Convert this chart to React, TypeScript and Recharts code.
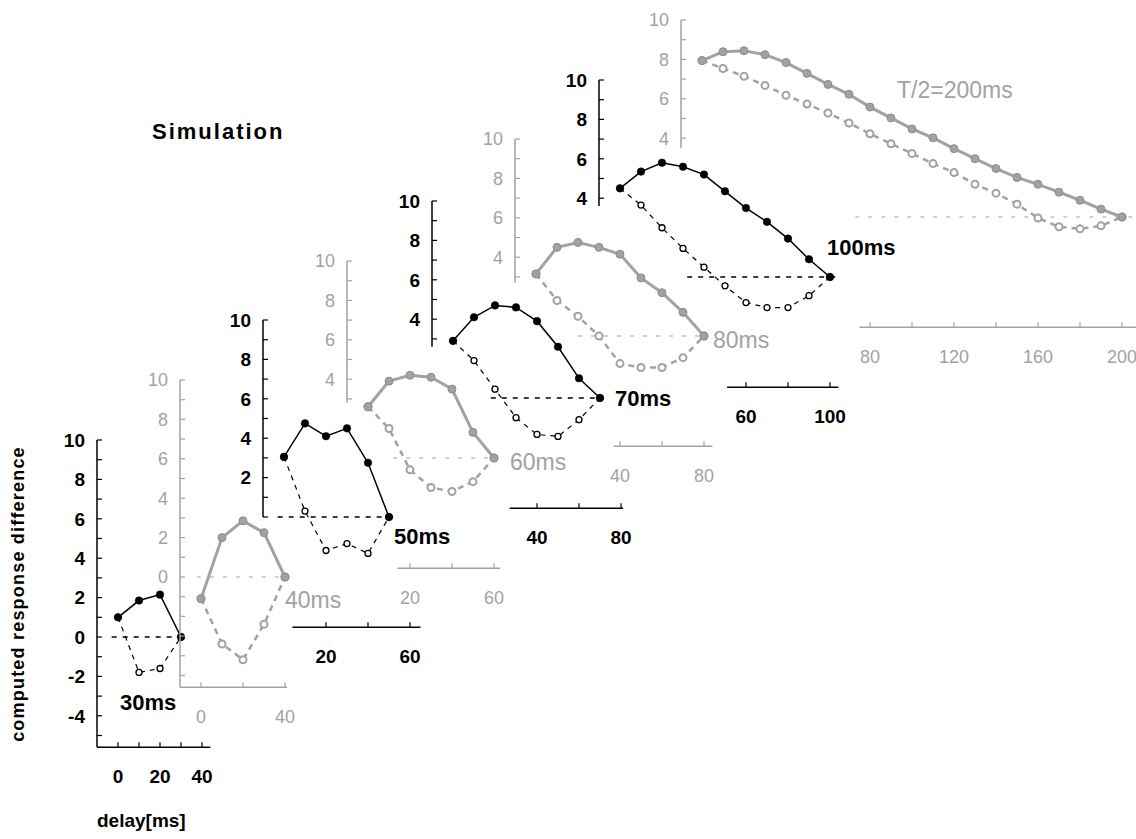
import React from 'react';
import { LineChart, Line, XAxis, YAxis, ReferenceLine } from 'recharts';

// delay (ms) and computed response difference, one set per half period
const delays30 = [0, 10, 20, 30];
const same30 = [1.0, 1.85, 2.15, 0];
const opp30 = [1.0, -1.8, -1.6, 0];

const delays40 = [0, 10, 20, 30, 40];
const same40 = [-1.1, 2.0, 2.85, 2.25, 0];
const opp40 = [-1.1, -3.4, -4.2, -2.4, 0];

const delays50 = [0, 10, 20, 30, 40, 50];
const same50 = [3.05, 4.75, 4.1, 4.5, 2.75, 0];
const opp50 = [3.05, 0.3, -1.7, -1.35, -1.85, 0];

const delays60 = [0, 10, 20, 30, 40, 50, 60];
const same60 = [2.6, 3.9, 4.2, 4.1, 3.5, 1.3, 0];
const opp60 = [2.6, 1.5, -0.6, -1.5, -1.7, -1.2, 0];

const delays70 = [0, 10, 20, 30, 40, 50, 60, 70];
const same70 = [2.9, 4.1, 4.7, 4.6, 3.9, 2.6, 1.0, 0];
const opp70 = [2.9, 1.9, 0.45, -1.0, -1.85, -1.95, -1.1, 0];

const delays80 = [0, 10, 20, 30, 40, 50, 60, 70, 80];
const same80 = [3.15, 4.5, 4.75, 4.5, 4.15, 2.95, 2.2, 1.2, 0];
const opp80 = [3.15, 1.8, 1.0, 0.0, -1.4, -1.6, -1.6, -1.1, 0];

const delays100 = [0, 10, 20, 30, 40, 50, 60, 70, 80, 90, 100];
const same100 = [4.5, 5.35, 5.8, 5.6, 5.2, 4.35, 3.5, 2.8, 1.95, 0.9, 0];
const opp100 = [4.5, 3.65, 2.5, 1.45, 0.5, -0.45, -1.3, -1.55, -1.55, -0.95, 0];

const delays200 = [0, 10, 20, 30, 40, 50, 60, 70, 80, 90, 100, 110, 120, 130, 140, 150, 160, 170, 180, 190, 200];
const same200 = [7.94, 8.39, 8.44, 8.24, 7.84, 7.29, 6.73, 6.23, 5.58, 5.03, 4.47, 4.02, 3.47, 2.96, 2.46, 2.01, 1.66, 1.26, 0.85, 0.4, 0];
const opp200 = [7.94, 7.54, 7.14, 6.68, 6.18, 5.73, 5.28, 4.77, 4.22, 3.72, 3.22, 2.71, 2.26, 1.66, 1.21, 0.65, -0.05, -0.5, -0.6, -0.45, 0];

// tick values and which of them carry a label
const yTicksFull = [-5, -4, -3, -2, -1, 0, 1, 2, 3, 4, 5, 6, 7, 8, 9, 10];
const yLabelsFull = [-4, -2, 0, 2, 4, 6, 8, 10];
const yLabelsPos = [0, 2, 4, 6, 8, 10];
const yTicks50 = [0, 1, 2, 3, 4, 5, 6, 7, 8, 9, 10];
const yLabels50 = [2, 4, 6, 8, 10];
const yTicksShort = [3, 4, 5, 6, 7, 8, 9, 10];
const yTicksTop = [4, 5, 6, 7, 8, 9, 10];
const yLabelsShort = [4, 6, 8, 10];

const xTicks30 = [0, 10, 20, 30, 40];
const xLabels30 = [0, 20, 40];
const xTicks40 = [0, 20, 40];
const xLabels40 = [0, 40];
const xTicks50 = [20, 40, 60];
const xLabels50 = [20, 60];
const xTicks70 = [40, 60, 80];
const xLabels70 = [40, 80];
const xTicks100 = [60, 80, 100];
const xLabels100 = [60, 100];
const xTicks200 = [80, 100, 120, 140, 160, 180, 200];
const xLabels200 = [80, 120, 160, 200];

const BLACK = '#000';
const GRAY = '#a2a2a2';
const FONT = '"Liberation Sans", Arial, Helvetica, sans-serif';

const PX_MS = 2.1;
const PX_UNIT = 19.7;
const Y_TOP = 10;
const Y_BOTTOM = -5.6;
const X_START = -10;
// axes are 1px wide/high (a 0px axis is not drawn at all)
const M = { top: 20, right: 20, bottom: 49, left: 49 };

type Panel = {
  delays: number[];
  same: number[];
  opp: number[];
  yTicks: number[];
  yLabels: number[];
  xTicks: number[];
  xLabels: number[];
  gray: boolean;
  axisX: number;
  zeroY: number;
  yFrom: number;
  xFrom: number;
  xTo: number;
  zFrom: number;
  zTo: number;
};

const panels: Panel[] = [
  { delays: delays30, same: same30, opp: opp30, yTicks: yTicksFull, yLabels: yLabelsFull, xTicks: xTicks30, xLabels: xLabels30,
    gray: false, axisX: 97, zeroY: 637, yFrom: -5.6, xFrom: -10, xTo: 44, zFrom: -3, zTo: 29 },
  { delays: delays40, same: same40, opp: opp40, yTicks: yTicksFull, yLabels: yLabelsPos, xTicks: xTicks40, xLabels: xLabels40,
    gray: true, axisX: 180, zeroY: 577, yFrom: -5.6, xFrom: -10, xTo: 41, zFrom: -2, zTo: 42 },
  { delays: delays50, same: same50, opp: opp50, yTicks: yTicks50, yLabels: yLabels50, xTicks: xTicks50, xLabels: xLabels50,
    gray: false, axisX: 263, zeroY: 517, yFrom: 0, xFrom: 4, xTo: 65, zFrom: -3, zTo: 54 },
  { delays: delays60, same: same60, opp: opp60, yTicks: yTicksShort, yLabels: yLabelsShort, xTicks: xTicks50, xLabels: xLabels50,
    gray: true, axisX: 347, zeroY: 458, yFrom: 2.8, xFrom: 14, xTo: 63, zFrom: 12, zTo: 62 },
  { delays: delays70, same: same70, opp: opp70, yTicks: yTicksShort, yLabels: yLabelsShort, xTicks: xTicks70, xLabels: xLabels70,
    gray: false, axisX: 432, zeroY: 398, yFrom: 2.6, xFrom: 27, xTo: 81, zFrom: 18, zTo: 71 },
  { delays: delays80, same: same80, opp: opp80, yTicks: yTicksShort, yLabels: yLabelsShort, xTicks: xTicks70, xLabels: xLabels70,
    gray: true, axisX: 515, zeroY: 336, yFrom: 2.7, xFrom: 37, xTo: 84, zFrom: 20, zTo: 81 },
  { delays: delays100, same: same100, opp: opp100, yTicks: yTicksTop, yLabels: yLabelsShort, xTicks: xTicks100, xLabels: xLabels100,
    gray: false, axisX: 599, zeroY: 277, yFrom: 3.6, xFrom: 51, xTo: 104, zFrom: 32, zTo: 105 },
  { delays: delays200, same: same200, opp: opp200, yTicks: yTicksTop, yLabels: yLabelsShort, xTicks: xTicks200, xLabels: xLabels200,
    gray: true, axisX: 681, zeroY: 217, yFrom: 3.5, xFrom: 75, xTo: 210, zFrom: 73, zTo: 210 },
];

const periodLabels = [
  { text: '30ms', gray: false, x: 120, y: 703 },
  { text: '40ms', gray: true, x: 285, y: 600 },
  { text: '50ms', gray: false, x: 394, y: 537 },
  { text: '60ms', gray: true, x: 510, y: 462 },
  { text: '70ms', gray: false, x: 615, y: 399 },
  { text: '80ms', gray: true, x: 713, y: 340 },
  { text: '100ms', gray: false, x: 827, y: 248 },
  { text: 'T/2=200ms', gray: true, x: 897, y: 90 },
];

function YTick(props: any) {
  const { x, y, payload, labels, gray } = props;
  const ink = gray ? GRAY : BLACK;
  return (
    <g>
      <line x1={x} x2={x + 5} y1={y} y2={y} stroke={ink} strokeWidth={1.2} />
      {labels.includes(payload.value) && (
        <text x={x - 12} y={y} dy="0.36em" textAnchor="end" fill={ink}
          fontFamily={FONT} fontSize={gray ? 18 : 19} fontWeight={gray ? 400 : 700}>
          {payload.value}
        </text>
      )}
    </g>
  );
}

function XTick(props: any) {
  const { x, y, payload, labels, gray } = props;
  const ink = gray ? GRAY : BLACK;
  return (
    <g>
      <line x1={x} x2={x} y1={y} y2={y - 5} stroke={ink} strokeWidth={1.2} />
      {labels.includes(payload.value) && (
        <text x={x} y={y + 29} dy="0.36em" textAnchor="middle" fill={ink}
          fontFamily={FONT} fontSize={gray ? 18 : 19} fontWeight={gray ? 400 : 700}>
          {payload.value}
        </text>
      )}
    </g>
  );
}

function PanelChart({ p }: { p: Panel }) {
  const rows = p.delays.map((d, i) => ({ d, same: p.same[i], opp: p.opp[i] }));
  const xEnd = p.xTo + 2;
  const plotW = (xEnd - X_START) * PX_MS;
  const plotH = (Y_TOP - Y_BOTTOM) * PX_UNIT;
  const W = M.left + 1 + plotW + M.right;
  const H = M.top + plotH + 1 + M.bottom;
  const left = p.axisX - M.left - 1;
  const top = p.zeroY - Y_TOP * PX_UNIT - M.top;
  const ink = p.gray ? GRAY : BLACK;

  return (
    <div style={{ position: 'absolute', left, top, width: W, height: H }}>
      <LineChart width={W} height={H} data={rows} margin={M}>
        <XAxis type="number" dataKey="d" domain={[X_START, xEnd]} ticks={p.xTicks} interval={0}
          height={1} tickSize={0} tickMargin={0} axisLine={false} tickLine={false}
          tick={(t: any) => <XTick {...t} labels={p.xLabels} gray={p.gray} />} />
        <YAxis type="number" domain={[Y_BOTTOM, Y_TOP]} ticks={p.yTicks} interval={0}
          width={1} tickSize={0} tickMargin={0} axisLine={false} tickLine={false}
          tick={(t: any) => <YTick {...t} labels={p.yLabels} gray={p.gray} />} />
        <ReferenceLine ifOverflow="visible" stroke={ink} strokeWidth={1.5}
          segment={[{ x: X_START, y: p.yFrom }, { x: X_START, y: Y_TOP }]} />
        <ReferenceLine ifOverflow="visible" stroke={ink} strokeWidth={1.5}
          segment={[{ x: p.xFrom, y: Y_BOTTOM }, { x: p.xTo, y: Y_BOTTOM }]} />
        <ReferenceLine ifOverflow="visible" stroke={ink} strokeWidth={p.gray ? 1.2 : 1.3}
          strokeDasharray={p.gray ? '4 9' : '5 6'}
          segment={[{ x: p.zFrom, y: 0 }, { x: p.zTo, y: 0 }]} />
        <Line type="linear" dataKey="opp" isAnimationActive={false} activeDot={false}
          stroke={ink} strokeWidth={p.gray ? 2.5 : 1.2} strokeDasharray={p.gray ? '6 5' : '5 5'}
          dot={p.gray
            ? { r: 3.5, fill: '#fff', stroke: GRAY, strokeWidth: 2, strokeDasharray: '' }
            : { r: 3, fill: '#fff', stroke: BLACK, strokeWidth: 1.3, strokeDasharray: '' }} />
        <Line type="linear" dataKey="same" isAnimationActive={false} activeDot={false}
          stroke={ink} strokeWidth={p.gray ? 3 : 1.5}
          dot={p.gray
            ? { r: 4, fill: GRAY, stroke: '#8c8c8c', strokeWidth: 1 }
            : { r: 3.8, fill: BLACK, stroke: BLACK, strokeWidth: 0.5 }} />
      </LineChart>
    </div>
  );
}

export default function App() {
  return (
    <div style={{ position: 'absolute', left: 0, top: 0, width: 1136, height: 839, overflow: 'hidden', background: '#fff', fontFamily: FONT }}>
      {panels.map((p, i) => <PanelChart key={i} p={p} />)}
      {periodLabels.map((l) => (
        <div key={l.text} style={{ position: 'absolute', left: l.x, top: l.y, transform: 'translateY(-50%)', lineHeight: 1,
          whiteSpace: 'nowrap', color: l.gray ? GRAY : BLACK, fontSize: l.gray ? 23 : 22, fontWeight: l.gray ? 400 : 700 }}>
          {l.text}
        </div>
      ))}
      <div style={{ position: 'absolute', left: 152, top: 132, transform: 'translateY(-50%)', lineHeight: 1,
        fontSize: 22, fontWeight: 700, letterSpacing: 2, whiteSpace: 'nowrap' }}>
        Simulation
      </div>
      <div style={{ position: 'absolute', left: 18, top: 594, transform: 'translate(-50%, -50%) rotate(-90deg)', lineHeight: 1,
        fontSize: 18, fontWeight: 700, letterSpacing: 1.2, whiteSpace: 'nowrap' }}>
        computed response difference
      </div>
      <div style={{ position: 'absolute', left: 97, top: 820, transform: 'translateY(-50%)', lineHeight: 1,
        fontSize: 19, fontWeight: 700, whiteSpace: 'nowrap' }}>
        delay[ms]
      </div>
    </div>
  );
}
